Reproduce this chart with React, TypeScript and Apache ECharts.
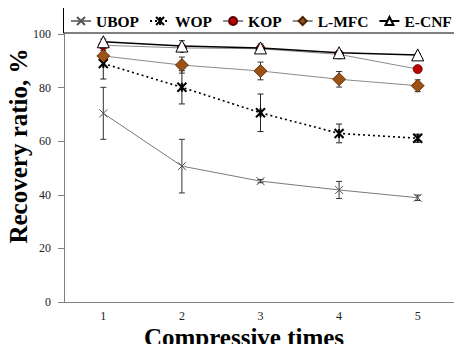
import React, { useEffect, useRef } from "react";
import * as echarts from "echarts";

const categories = ["1", "2", "3", "4", "5"];
const yTicks = [0, 20, 40, 60, 80, 100];
const seriesNames = ["UBOP", "WOP", "KOP", "L-MFC", "E-CNF"];

const ubop = [70.4, 50.7, 45.1, 41.8, 38.9];
const ubopErr = [9.7, 10.0, 0.6, 3.2, 1.0];
const wop = [89.0, 80.1, 70.6, 62.9, 61.1];
const wopErr = [5.8, 6.2, 7.0, 3.5, 1.5];
const kop = [95.8, 94.8, 94.5, 92.4, 86.9];
const kopErr = [0.8, 0.8, 1.0, 0.8, 0.8];
const lmfc = [91.8, 88.4, 86.2, 83.1, 80.7];
const lmfcErr = [2.0, 3.0, 3.3, 2.9, 2.2];
const ecnf = [97.1, 95.5, 94.8, 93.0, 92.2];
const ecnfErr = [1.0, 2.0, 1.5, 0.8, 0.5];

const FONT = "Liberation Serif";

function errSeries(name: string, vals: number[], errs: number[], color: string) {
  const data = vals.map((v, i) => [i, v - errs[i], v + errs[i]]);
  return {
    type: "custom",
    name: name + "-err",
    z: 1,
    silent: true,
    data,
    renderItem: (params: any, api: any) => {
      const x = api.value(0);
      const lo = api.coord([x, api.value(1)]);
      const hi = api.coord([x, api.value(2)]);
      const w = 3;
      const st = { stroke: color, lineWidth: 1 };
      return {
        type: "group",
        children: [
          { type: "line", shape: { x1: lo[0], y1: lo[1], x2: hi[0], y2: hi[1] }, style: st },
          { type: "line", shape: { x1: lo[0] - w, y1: lo[1], x2: lo[0] + w, y2: lo[1] }, style: st },
          { type: "line", shape: { x1: hi[0] - w, y1: hi[1], x2: hi[0] + w, y2: hi[1] }, style: st },
        ],
      };
    },
  };
}

export default function App() {
  const ref = useRef<HTMLDivElement>(null);
  useEffect(() => {
    if (!ref.current) return;
    const chart = echarts.init(ref.current, undefined, { renderer: "svg" });
    const option: any = {
      animation: false,
      backgroundColor: "#fff",
      grid: { left: 64, right: 5, top: 34, bottom: 50 },
      legend: {
        data: seriesNames,
        left: 70,
        top: 13,
        width: 392,
        padding: 0,
        itemWidth: 20,
        itemHeight: 10,
        itemGap: 10,
        textStyle: { fontFamily: FONT, fontWeight: "bold", fontSize: 15.5, color: "#000" },
      },
      graphic: [
        {
          type: "rect",
          shape: { x: 63.5, y: 7.5, width: 393.5, height: 25.5 },
          style: { fill: "none", stroke: "#000", lineWidth: 1 },
          z: 100,
        },
        {
          type: "text",
          x: 18,
          y: 146,
          rotation: Math.PI / 2,
          style: {
            text: "Recovery ratio, %",
            fontFamily: FONT,
            fontWeight: "bold",
            fontSize: 25,
            fill: "#000",
            align: "center",
            verticalAlign: "middle",
          },
        },
        {
          type: "text",
          x: 244,
          y: 337,
          style: {
            text: "Compressive times",
            fontFamily: FONT,
            fontWeight: "bold",
            fontSize: 25,
            fill: "#000",
            align: "center",
            verticalAlign: "middle",
          },
        },
      ],
      xAxis: {
        type: "category",
        data: categories,
        boundaryGap: true,
        axisLine: { lineStyle: { color: "#808080", width: 1 } },
        axisTick: { alignWithLabel: true, length: 4, inside: true, lineStyle: { color: "#808080" } },
        axisLabel: { fontFamily: FONT, fontSize: 12, color: "#222", margin: 8 },
        splitLine: { show: false },
      },
      yAxis: {
        type: "value",
        min: yTicks[0],
        max: yTicks[yTicks.length - 1],
        interval: 20,
        axisLine: { show: true, lineStyle: { color: "#808080", width: 1 } },
        axisTick: { show: true, length: 6, lineStyle: { color: "#808080" } },
        axisLabel: { fontFamily: FONT, fontSize: 12, color: "#222", margin: 13 },
        splitLine: { show: false },
      },
      series: [
        errSeries("UBOP", ubop, ubopErr, "#333"),
        errSeries("WOP", wop, wopErr, "#222"),
        errSeries("KOP", kop, kopErr, "#333"),
        errSeries("L-MFC", lmfc, lmfcErr, "#333"),
        errSeries("E-CNF", ecnf, ecnfErr, "#333"),
        {
          name: "UBOP",
          type: "line",
          data: ubop,
          z: 3,
          symbol: "path://M0,0L10,10M10,0L0,10",
          symbolSize: 8,
          lineStyle: { color: "#7a7a7a", width: 1 },
          itemStyle: { color: "none", borderColor: "#555", borderWidth: 1 },
        },
        {
          name: "WOP",
          type: "line",
          data: wop,
          z: 3,
          symbol: "path://M0,0L10,10M10,0L0,10M5,0L5,10",
          symbolSize: 9,
          lineStyle: { color: "#000", width: 1.6, type: [2, 3] },
          itemStyle: { color: "none", borderColor: "#000", borderWidth: 2 },
        },
        {
          name: "KOP",
          type: "line",
          data: kop,
          z: 3,
          symbol: "circle",
          symbolSize: 9,
          lineStyle: { color: "#8c8c8c", width: 1 },
          itemStyle: { color: "#c00000", borderColor: "#5a0000", borderWidth: 0.8 },
        },
        {
          name: "L-MFC",
          type: "line",
          data: lmfc,
          z: 3,
          symbol: "diamond",
          symbolSize: 13,
          lineStyle: { color: "#8c8c8c", width: 1 },
          itemStyle: { color: "#9c5214", borderColor: "#4a2506", borderWidth: 0.8 },
        },
        {
          name: "E-CNF",
          type: "line",
          data: ecnf,
          z: 4,
          symbol: "triangle",
          symbolSize: 12,
          lineStyle: { color: "#000", width: 1.5 },
          itemStyle: { color: "#fff", borderColor: "#000", borderWidth: 1 },
        },
      ],
    };
    chart.setOption(option);
    return () => chart.dispose();
  }, []);
  return <div ref={ref} style={{ width: 462, height: 352, margin: -8 }} />;
}
